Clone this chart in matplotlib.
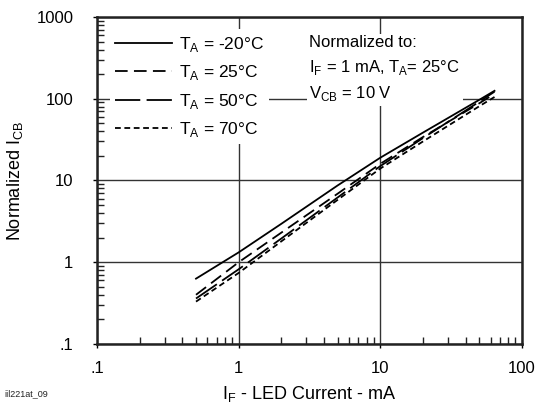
import matplotlib
matplotlib.use('Agg')
import matplotlib.pyplot as plt
from matplotlib.ticker import LogLocator, FixedLocator, FixedFormatter, NullFormatter

plt.rcParams['font.family'] = ['Liberation Sans', 'DejaVu Sans']
plt.rcParams['mathtext.fontset'] = 'custom'
plt.rcParams['mathtext.rm'] = 'Liberation Sans'

# LED current (mA) and normalized ICB
i_f = [0.5, 1, 2, 5, 10, 20, 50, 64]
icb_m20 = [0.63, 1.32, 2.95, 8.7, 19.0, 38.5, 97, 125]
icb_25 = [0.40, 1.0, 2.3, 6.9, 16.0, 34, 88, 115]
icb_50 = [0.36, 0.82, 1.95, 6.2, 15.0, 33, 92, 122]
icb_70 = [0.33, 0.74, 1.8, 5.8, 14.0, 30, 81, 105]

labels = [r'T$_\mathregular{A}$ = -20°C', r'T$_\mathregular{A}$ = 25°C',
          r'T$_\mathregular{A}$ = 50°C', r'T$_\mathregular{A}$ = 70°C']
xticks = [0.1, 1, 10, 100]
xtick_labels = ['.1', '1', '10', '100']
yticks = [0.1, 1, 10, 100, 1000]
ytick_labels = ['.1', '1', '10', '100', '1000']

fig = plt.figure(figsize=(5.37, 4.04), dpi=100)
ax = fig.add_axes([0.1806, 0.1485, 0.7914, 0.8095])
ax.set_xscale('log')
ax.set_yscale('log')
ax.set_xlim(0.1, 100)
ax.set_ylim(0.1, 1000)

lw = 1.3
ax.plot(i_f, icb_m20, color='black', lw=lw, ls='-', label=labels[0])
ax.plot(i_f, icb_25, color='black', lw=lw, ls=(0, (7, 3.5)), label=labels[1])
ax.plot(i_f, icb_50, color='black', lw=lw, ls=(0, (14, 3.5)), label=labels[2])
ax.plot(i_f, icb_70, color='black', lw=lw, ls=(0, (3.2, 2)), label=labels[3])

ax.grid(True, which='major', color='#333333', lw=1.0)
ax.xaxis.set_major_locator(FixedLocator(xticks))
ax.xaxis.set_major_formatter(FixedFormatter(xtick_labels))
ax.yaxis.set_major_locator(FixedLocator(yticks))
ax.yaxis.set_major_formatter(FixedFormatter(ytick_labels))
ax.xaxis.set_minor_locator(LogLocator(base=10, subs=range(2, 10)))
ax.yaxis.set_minor_locator(LogLocator(base=10, subs=range(2, 10)))
ax.xaxis.set_minor_formatter(NullFormatter())
ax.yaxis.set_minor_formatter(NullFormatter())
ax.tick_params(which='minor', direction='in', length=5, width=1, color='#222222')
ax.tick_params(which='major', direction='out', length=3, width=1, labelsize=12)
ax.tick_params(axis='y', which='major', pad=14)
ax.tick_params(axis='x', which='major', pad=9)
for s in ax.spines.values():
    s.set_linewidth(1.8)
    s.set_color('#222222')

leg = ax.legend(loc='upper left', bbox_to_anchor=(0.03, 0.962), frameon=True,
                fontsize=12.5, handlelength=3.3, handletextpad=0.4,
                labelspacing=0.55, borderpad=0.3, borderaxespad=0.0, fancybox=False)
leg.get_frame().set_facecolor('white')
leg.get_frame().set_edgecolor('none')
leg.get_frame().set_alpha(1)

ax.text(0.5, 0.945, 'Normalized to:\n' + r'I$_\mathregular{F}$ = 1 mA, T$_\mathregular{A}$= 25°C' + '\n'
        + r'V$_\mathregular{CB}$ = 10 V', transform=ax.transAxes, ha='left', va='top',
        fontsize=12, linespacing=1.55,
        bbox=dict(facecolor='white', edgecolor='none', pad=2))

ax.set_xlabel(r'I$_\mathregular{F}$ - LED Current - mA', fontsize=13, labelpad=6)
ax.set_ylabel(r'Normalized I$_\mathregular{CB}$', fontsize=13, labelpad=8)
fig.text(0.008, 0.02, 'iil221at_09', fontsize=6.5, color='#222222')

fig.savefig('out.png', dpi=100)
